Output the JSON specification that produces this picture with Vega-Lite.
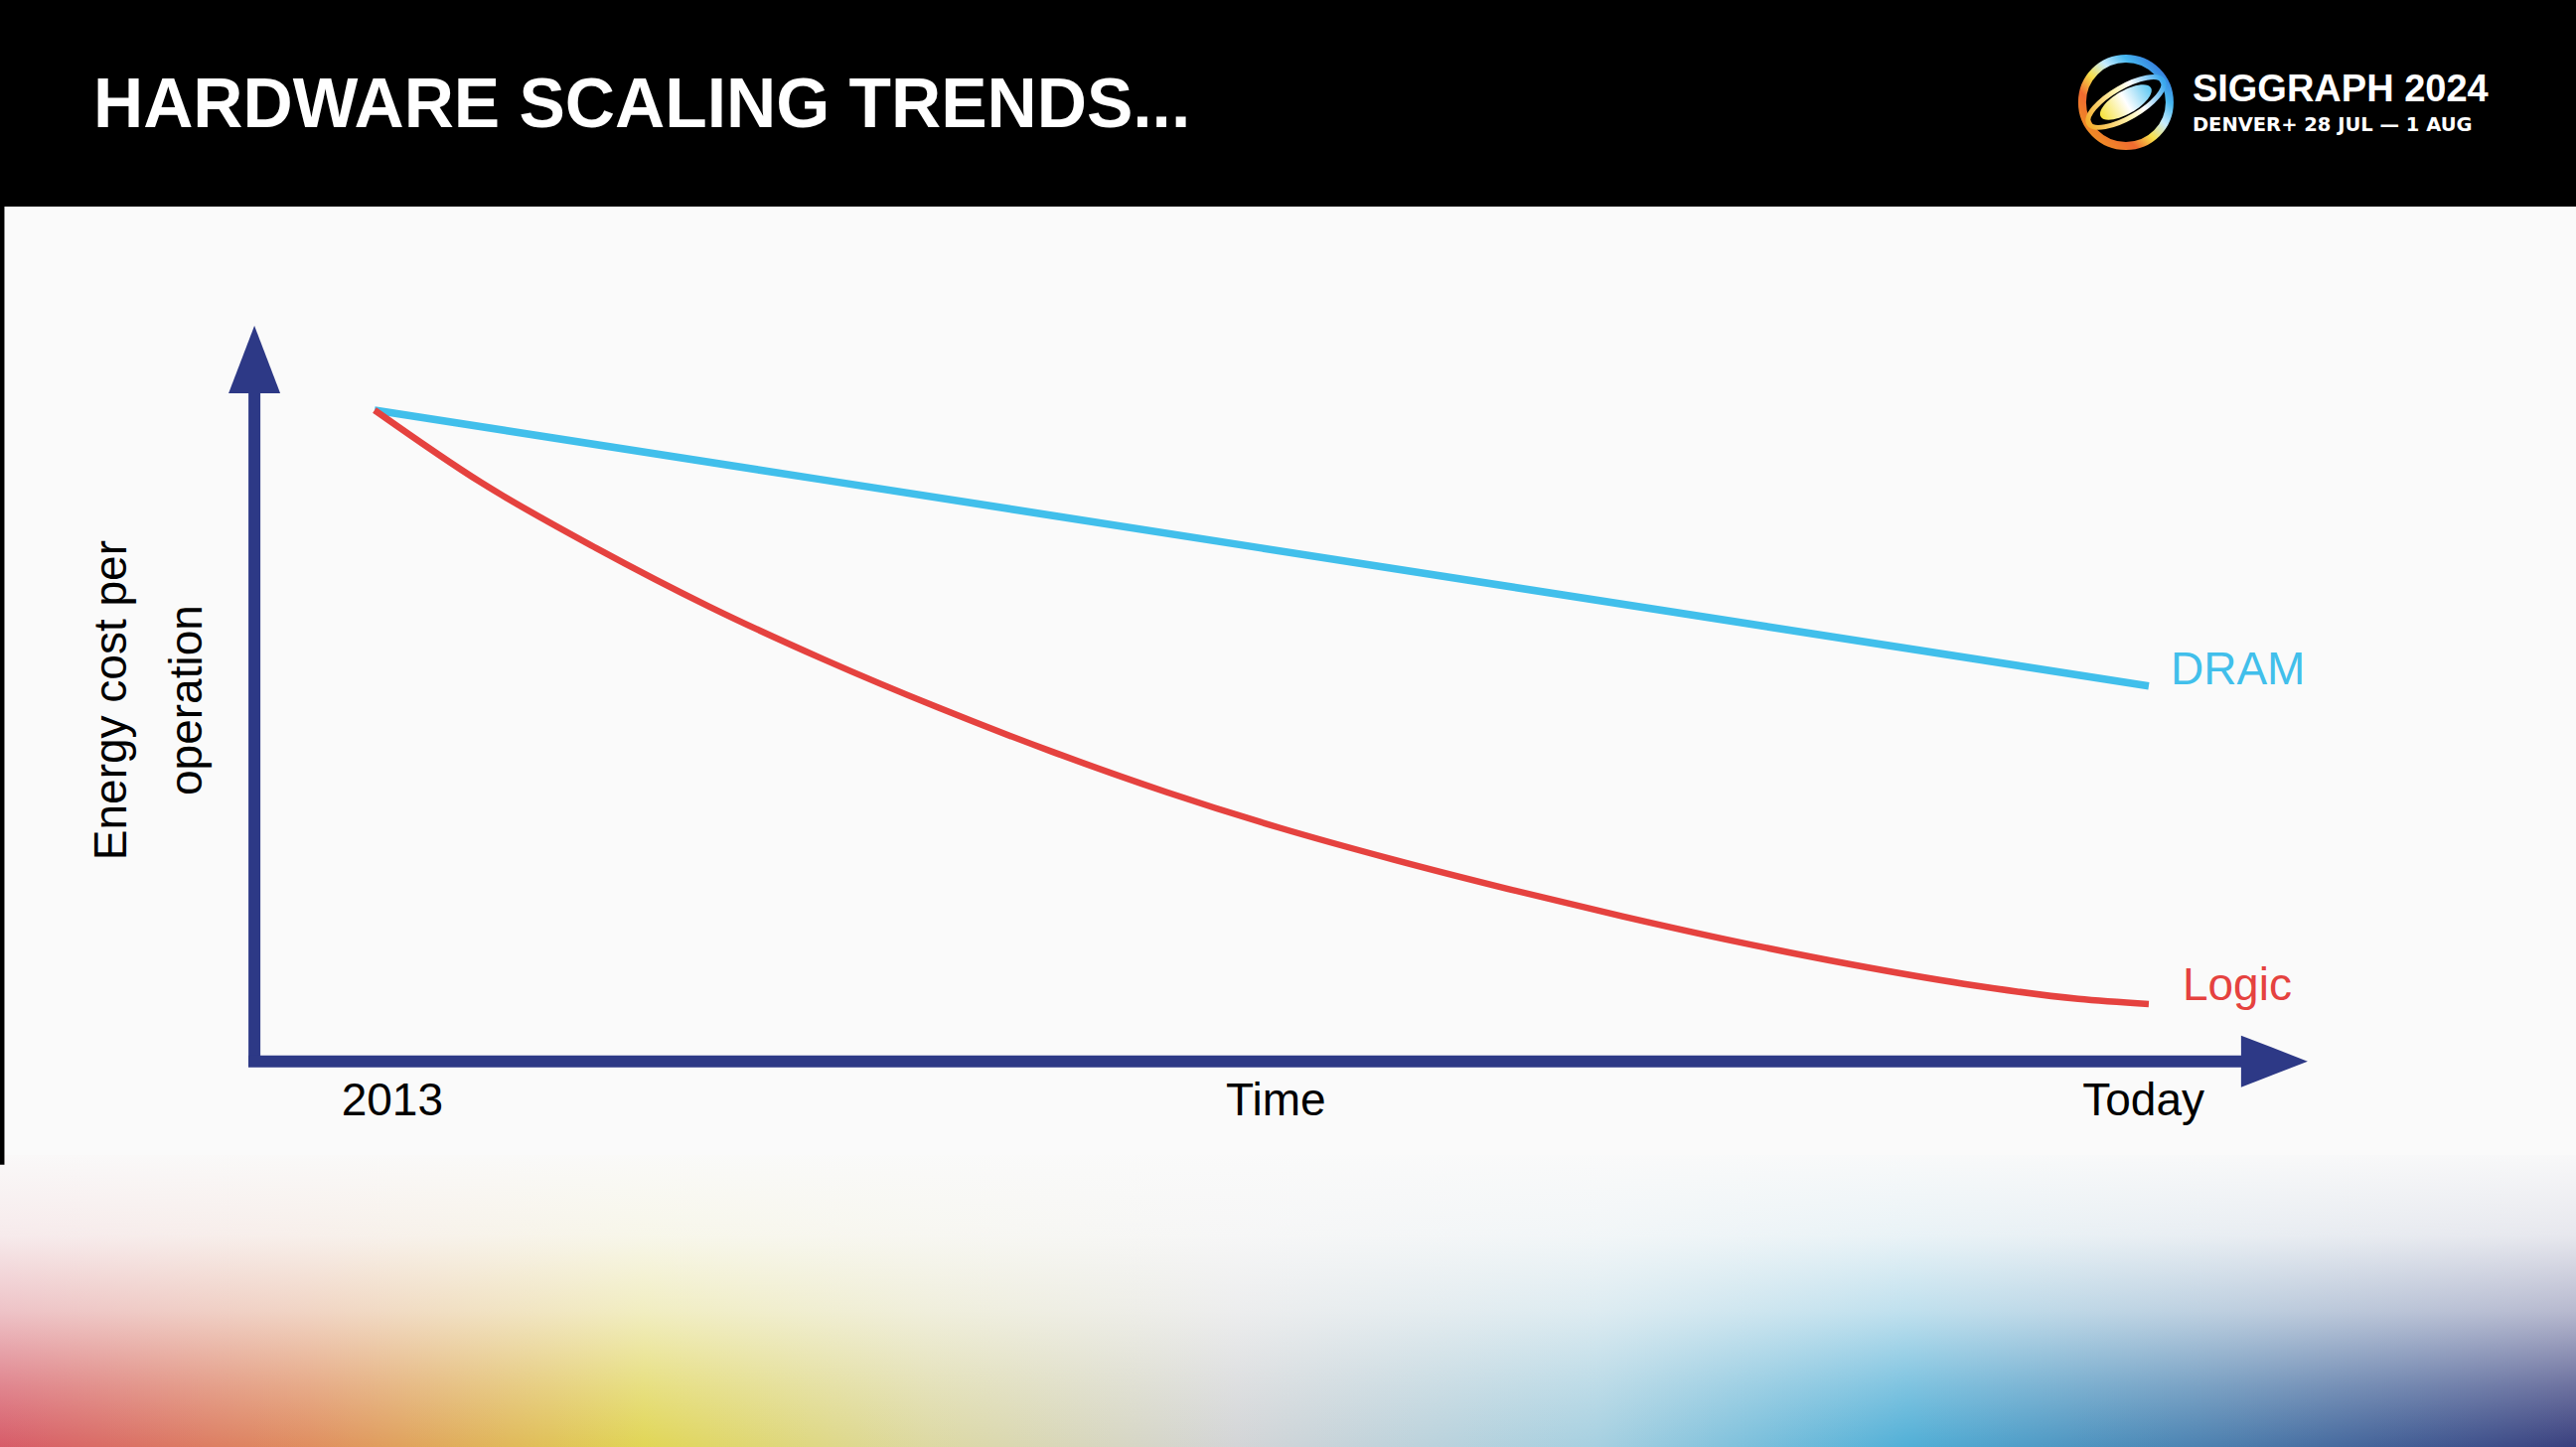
{
  "$schema": "https://vega.github.io/schema/vega-lite/v6.json",
  "width": 2593,
  "height": 1457,
  "padding": 0,
  "autosize": {"type": "fit", "contains": "padding"},
  "background": "#000000",
  "config": {"view": {"stroke": null, "fill": "#fafafa"}, "axis": {"disable": true}, "legend": {"disable": true}},
  "datasets": {
    "series": [
      {"series": "DRAM", "t": 0, "e": 100},
      {"series": "DRAM", "t": 50, "e": 78.8},
      {"series": "DRAM", "t": 100, "e": 57.6},
      {"series": "Logic", "t": 0, "e": 100},
      {"series": "Logic", "t": 6.05, "e": 88.8},
      {"series": "Logic", "t": 12.49, "e": 78.8},
      {"series": "Logic", "t": 18.87, "e": 69.8},
      {"series": "Logic", "t": 25.31, "e": 61.7},
      {"series": "Logic", "t": 31.75, "e": 54.3},
      {"series": "Logic", "t": 38.19, "e": 47.5},
      {"series": "Logic", "t": 44.62, "e": 41.3},
      {"series": "Logic", "t": 51.01, "e": 35.8},
      {"series": "Logic", "t": 57.45, "e": 30.9},
      {"series": "Logic", "t": 63.89, "e": 26.4},
      {"series": "Logic", "t": 70.33, "e": 22.2},
      {"series": "Logic", "t": 76.76, "e": 18.3},
      {"series": "Logic", "t": 83.2, "e": 14.8},
      {"series": "Logic", "t": 89.59, "e": 11.8},
      {"series": "Logic", "t": 96.02, "e": 9.5},
      {"series": "Logic", "t": 100, "e": 8.7}
    ],
    "xlabels": [
      {"label": "2013", "t": 1.0},
      {"label": "Time", "t": 50.8},
      {"label": "Today", "t": 99.7}
    ]
  },
  "layer": [
    {
      "data": {"values": [{}]},
      "mark": {"type": "rect", "color": "#000000"},
      "encoding": {
        "x": {"datum": -21.11, "type": "quantitative", "scale": {"domain": [-21.11, 124.08], "nice": false, "zero": false}},
        "x2": {"datum": 124.08},
        "y": {"datum": 131.3, "type": "quantitative", "scale": {"domain": [-59.39, 163.05], "nice": false, "zero": false}},
        "y2": {"datum": 163.05}
      }
    },
    {
      "data": {"values": [{}]},
      "mark": {"type": "rect", "color": {"gradient": "linear", "x1": 0, "y1": 0, "x2": 1, "y2": 0, "stops": [
        {"offset": 0, "color": "#d65865"},
        {"offset": 0.12, "color": "#df8c5c"},
        {"offset": 0.25, "color": "#e0d552"},
        {"offset": 0.36, "color": "#dcd8a0"},
        {"offset": 0.48, "color": "#d2d4d6"},
        {"offset": 0.62, "color": "#a4cfe0"},
        {"offset": 0.74, "color": "#4eaed6"},
        {"offset": 0.87, "color": "#4879aa"},
        {"offset": 1, "color": "#363c7c"}
      ]}},
      "encoding": {
        "x": {"datum": -21.11, "type": "quantitative"},
        "x2": {"datum": 124.08},
        "y": {"datum": -14.5, "type": "quantitative"},
        "y2": {"datum": -59.39}
      }
    },
    {
      "data": {"values": [{}]},
      "mark": {"type": "rect", "color": {"gradient": "linear", "x1": 0, "y1": 0, "x2": 0, "y2": 1, "stops": [
        {"offset": 0, "color": "rgba(250,250,250,1)"},
        {"offset": 0.3, "color": "rgba(250,250,250,0.9)"},
        {"offset": 0.55, "color": "rgba(250,250,250,0.66)"},
        {"offset": 0.8, "color": "rgba(250,250,250,0.28)"},
        {"offset": 1, "color": "rgba(250,250,250,0.02)"}
      ]}},
      "encoding": {
        "x": {"datum": -21.11, "type": "quantitative"},
        "x2": {"datum": 124.08},
        "y": {"datum": -13.0, "type": "quantitative"},
        "y2": {"datum": -59.39}
      }
    },
    {
      "data": {"values": [{}]},
      "mark": {"type": "rect", "color": "#000000"},
      "encoding": {
        "x": {"datum": -21.11, "type": "quantitative"},
        "x2": {"datum": -20.86},
        "y": {"datum": -16, "type": "quantitative"},
        "y2": {"datum": 163.05}
      }
    },
    {
      "data": {"values": [{}]},
      "mark": {"type": "rule", "color": "#2d3986", "strokeWidth": 12, "strokeCap": "butt"},
      "encoding": {
        "x": {"datum": -6.77, "type": "quantitative"},
        "y": {"datum": -0.92, "type": "quantitative"},
        "y2": {"datum": 103.5}
      }
    },
    {
      "data": {"values": [{}]},
      "mark": {"type": "rule", "color": "#2d3986", "strokeWidth": 12, "strokeCap": "butt"},
      "encoding": {
        "x": {"datum": -7.11, "type": "quantitative"},
        "x2": {"datum": 106},
        "y": {"datum": -0.1, "type": "quantitative"}
      }
    },
    {
      "data": {"values": [{}]},
      "mark": {"type": "point", "shape": "M 0 -1 L 0.765 1 L -0.765 1 Z", "size": 4624, "filled": true, "color": "#2d3986", "opacity": 1, "strokeWidth": 0},
      "encoding": {
        "x": {"datum": -6.77, "type": "quantitative"},
        "y": {"datum": 107.79, "type": "quantitative"}
      }
    },
    {
      "data": {"values": [{}]},
      "mark": {"type": "point", "shape": "M 1 0 L -1 -0.776 L -1 0.776 Z", "size": 4489, "filled": true, "color": "#2d3986", "opacity": 1, "strokeWidth": 0},
      "encoding": {
        "x": {"datum": 107.08, "type": "quantitative"},
        "y": {"datum": -0.1, "type": "quantitative"}
      }
    },
    {
      "data": {"name": "series"},
      "mark": {"type": "line", "interpolate": "monotone", "strokeCap": "butt"},
      "encoding": {
        "x": {"field": "t", "type": "quantitative", "scale": {"domain": [-21.11, 124.08], "nice": false, "zero": false}},
        "y": {"field": "e", "type": "quantitative", "scale": {"domain": [-59.39, 163.05], "nice": false, "zero": false}},
        "color": {"field": "series", "type": "nominal", "scale": {"domain": ["DRAM", "Logic"], "range": ["#41bfeb", "#e5423f"]}, "legend": null},
        "strokeWidth": {"field": "series", "type": "nominal", "scale": {"domain": ["DRAM", "Logic"], "range": [7.5, 6.5]}, "legend": null}
      }
    },
    {
      "data": {"name": "series"},
      "transform": [{"filter": "datum.series === 'DRAM' && datum.t === 100"}],
      "mark": {"type": "text", "align": "left", "baseline": "alphabetic", "dx": 22, "dy": -2, "font": "Liberation Sans", "fontSize": 46, "color": "#41bfeb"},
      "encoding": {
        "x": {"field": "t", "type": "quantitative"},
        "y": {"field": "e", "type": "quantitative"},
        "text": {"field": "series"}
      }
    },
    {
      "data": {"name": "series"},
      "transform": [{"filter": "datum.series === 'Logic' && datum.t === 100"}],
      "mark": {"type": "text", "align": "left", "baseline": "alphabetic", "dx": 34, "dy": -4, "font": "Liberation Sans", "fontSize": 46, "color": "#e5423f"},
      "encoding": {
        "x": {"field": "t", "type": "quantitative"},
        "y": {"field": "e", "type": "quantitative"},
        "text": {"field": "series"}
      }
    },
    {
      "data": {"name": "xlabels"},
      "mark": {"type": "text", "align": "center", "baseline": "alphabetic", "font": "Liberation Sans", "fontSize": 46, "color": "#000000"},
      "encoding": {
        "x": {"field": "t", "type": "quantitative"},
        "y": {"datum": -8.4, "type": "quantitative"},
        "text": {"field": "label"}
      }
    },
    {
      "data": {"values": [{"line": "Energy cost per", "t": -14.0}, {"line": "operation", "t": -9.74}]},
      "mark": {"type": "text", "align": "center", "baseline": "alphabetic", "angle": 270, "font": "Liberation Sans", "fontSize": 46, "color": "#000000"},
      "encoding": {
        "x": {"field": "t", "type": "quantitative"},
        "y": {"datum": 55.4, "type": "quantitative"},
        "text": {"field": "line"}
      }
    },
    {
      "data": {"values": [{"title": "HARDWARE SCALING TRENDS..."}]},
      "mark": {"type": "text", "align": "left", "baseline": "alphabetic", "font": "Liberation Sans", "fontWeight": "bold", "fontSize": 69.5, "color": "#ffffff"},
      "encoding": {
        "x": {"datum": -15.85, "type": "quantitative"},
        "y": {"datum": 143.51, "type": "quantitative"},
        "text": {"field": "title"}
      }
    },
    {
      "data": {"values": [{"txt": "SIGGRAPH 2024"}]},
      "mark": {"type": "text", "align": "left", "baseline": "alphabetic", "font": "Liberation Sans", "fontWeight": "bold", "fontSize": 38, "color": "#ffffff"},
      "encoding": {
        "x": {"datum": 102.46, "type": "quantitative"},
        "y": {"datum": 147.48, "type": "quantitative"},
        "text": {"field": "txt"}
      }
    },
    {
      "data": {"values": [{"txt": "DENVER+ 28 JUL — 1 AUG"}]},
      "mark": {"type": "text", "align": "left", "baseline": "alphabetic", "font": "DejaVu Sans", "fontWeight": "bold", "fontSize": 19.5, "color": "#ffffff"},
      "encoding": {
        "x": {"datum": 102.46, "type": "quantitative"},
        "y": {"datum": 142.9, "type": "quantitative"},
        "text": {"field": "txt"}
      }
    },
    {
      "data": {"values": [{}]},
      "mark": {"type": "point", "shape": "circle", "size": 7744, "filled": false, "strokeWidth": 8, "opacity": 1, "stroke": {"gradient": "linear", "x1": 0, "y1": 1, "x2": 1, "y2": 0, "stops": [
        {"offset": 0, "color": "#f0a020"},
        {"offset": 0.3, "color": "#f06a30"},
        {"offset": 0.45, "color": "#f7e04a"},
        {"offset": 0.6, "color": "#c8ecff"},
        {"offset": 0.75, "color": "#47b8f0"},
        {"offset": 1, "color": "#2a55d0"}
      ]}},
      "encoding": {
        "x": {"datum": 98.71, "type": "quantitative"},
        "y": {"datum": 147.33, "type": "quantitative"}
      }
    },
    {
      "data": {"values": [{}]},
      "mark": {"type": "point", "shape": "M -1 0 A 1 0.36 0 1 1 1 0 A 1 0.36 0 1 1 -1 0 Z", "size": 7400, "angle": -30, "filled": false, "strokeWidth": 5, "opacity": 1, "stroke": {"gradient": "linear", "x1": 0, "y1": 0.5, "x2": 1, "y2": 0.5, "stops": [
        {"offset": 0, "color": "#f5b030"},
        {"offset": 0.45, "color": "#fff4b0"},
        {"offset": 0.65, "color": "#ffffff"},
        {"offset": 1, "color": "#3aa8ee"}
      ]}},
      "encoding": {
        "x": {"datum": 98.71, "type": "quantitative"},
        "y": {"datum": 147.33, "type": "quantitative"}
      }
    },
    {
      "data": {"values": [{}]},
      "mark": {"type": "point", "shape": "M -1 0 A 1 0.4 0 1 1 1 0 A 1 0.4 0 1 1 -1 0 Z", "size": 3400, "angle": -30, "filled": true, "strokeWidth": 0, "opacity": 1, "fill": {"gradient": "linear", "x1": 0, "y1": 0.5, "x2": 1, "y2": 0.5, "stops": [
        {"offset": 0, "color": "#f7e23a"},
        {"offset": 0.5, "color": "#ffffff"},
        {"offset": 1, "color": "#5cc6f2"}
      ]}},
      "encoding": {
        "x": {"datum": 98.71, "type": "quantitative"},
        "y": {"datum": 147.33, "type": "quantitative"}
      }
    }
  ]
}
